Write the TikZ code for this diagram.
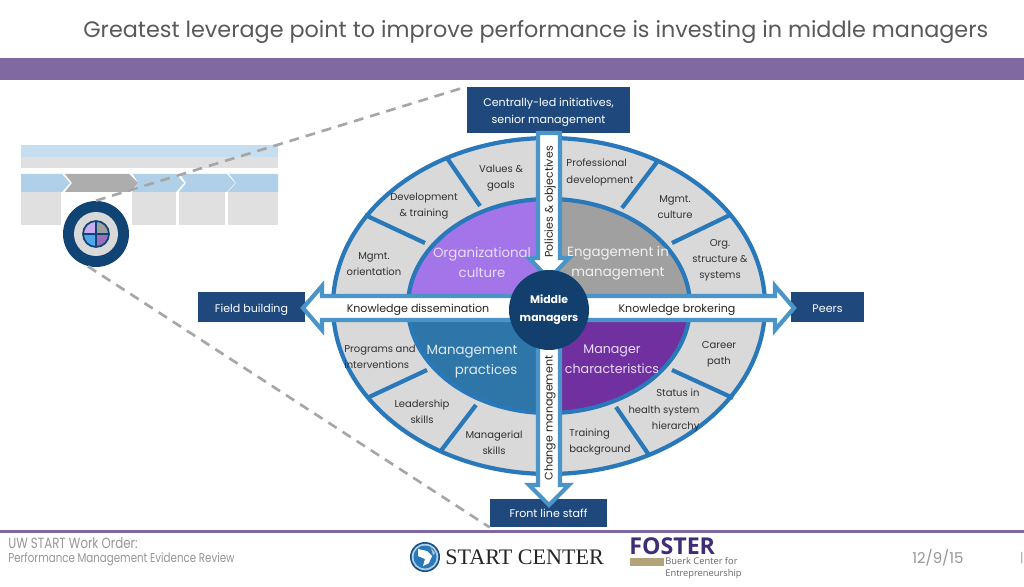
\documentclass[tikz,border=0pt]{standalone}
\usepackage{fontspec}
\setmainfont{Poppins}
\newfontfamily\startfont{Liberation Serif}
\newfontfamily\fosterfont{Open Sans}
\newfontfamily\footfont[FakeStretch=0.8]{Poppins}
\usepackage{xcolor}
\usepackage{tikz}
\usetikzlibrary{positioning,arrows.meta}
\definecolor{barpurple}{RGB}{128,104,160}
\definecolor{navybox}{RGB}{31,73,125}
\definecolor{hubnavy}{RGB}{18,63,109}
\definecolor{ringblue}{RGB}{41,120,185}
\definecolor{arrowblue}{RGB}{74,148,200}
\definecolor{ringgray}{RGB}{217,217,217}
\definecolor{cultpurple}{RGB}{163,117,232}
\definecolor{engagegray}{RGB}{160,160,160}
\definecolor{practblue}{RGB}{46,117,168}
\definecolor{charpurple}{RGB}{112,48,160}
\definecolor{paleblue}{RGB}{197,223,240}
\definecolor{chevblue}{RGB}{175,208,232}
\definecolor{palegray}{RGB}{224,224,224}
\definecolor{dashgray}{RGB}{166,166,166}
\definecolor{inklabel}{RGB}{50,50,50}
\definecolor{footgray}{RGB}{150,150,150}
\definecolor{lensnavy}{RGB}{15,68,117}
\definecolor{lensblue}{RGB}{77,166,232}
\definecolor{fosterpurple}{RGB}{63,45,120}
\definecolor{fostertan}{RGB}{178,163,120}
\tikzset{
  navynode/.style={fill=navybox, text=white, inner sep=0pt, align=center, font=\fontsize{6.3}{10}\selectfont},
  ringlabel/.style={text=inklabel, inner sep=0pt, font=\fontsize{5.7}{9.2}\selectfont},
  corelabel/.style={inner sep=0pt, font=\fontsize{7.6}{11.4}\selectfont},
  flowlabel/.style={text=black!85, inner sep=0pt, font=\fontsize{6.3}{8}\selectfont},
  spoke/.style={draw=ringblue, line width=2.4pt},
  flowarrow/.style={fill=white, draw=arrowblue, line width=2.4pt, miter limit=10},
  zoomline/.style={draw=dashgray, line width=1.5pt, dash pattern=on 5.6pt off 4pt},
  footlabel/.style={text=footgray, inner sep=0pt, anchor=west, font=\footfont\fontsize{7.3}{8}\selectfont}
}
\newcommand{\corner}[2]{%
  \begin{scope}
    \clip #2;
    \fill[#1] (549,306) ellipse [x radius=141, y radius=107];
  \end{scope}}
\newcommand{\schembox}[2]{\fill[palegray] (#1,192) rectangle (#2,225);}
\begin{document}
\begin{tikzpicture}[x=0.02cm, y=-0.02cm]
  \useasboundingbox (0,0) rectangle (1024,587);
  \fill[white] (0,0) rectangle (1024,587);
  \node[anchor=west, text=black!65, inner sep=0pt, font=\fontsize{12.7}{14}\selectfont] (title) at (83,32) {Greatest leverage point to improve performance is investing in middle managers};
  \fill[barpurple] (0,58) rectangle (1024,80);
  \fill[paleblue] (21,145) rectangle (278,157);
  \fill[palegray] (21,157) rectangle (278,168);
  \schembox{21}{61}
  \schembox{132}{176}
  \schembox{179}{225}
  \schembox{228}{278}
  \fill[chevblue] (21,174) -- (62,174) -- (70,183) -- (62,192) -- (21,192) -- cycle;
  \fill[black!32] (65,174) -- (129,174) -- (138,183) -- (130,192) -- (65,192) -- (72,183) -- cycle;
  \fill[chevblue] (133,174) -- (176,174) -- (184,183) -- (176,192) -- (132,192) -- (138,183) -- cycle;
  \fill[chevblue] (180,174) -- (227,174) -- (235,183) -- (227,192) -- (179,192) -- (186,183) -- cycle;
  \fill[chevblue] (229,174) -- (278,174) -- (278,192) -- (228,192) -- (236,183) -- cycle;
  \node[circle, fill=lensnavy, inner sep=0pt, minimum size=1.32cm] (lens) at (96,234) {};
  \fill[ringgray] (96,234) circle (22);
  \fill[cultpurple!60] (96,234) -- (83,234) arc[start angle=180, end angle=270, radius=13] -- cycle;
  \fill[engagegray] (96,234) -- (96,221) arc[start angle=270, end angle=360, radius=13] -- cycle;
  \fill[lensblue] (96,234) -- (96,247) arc[start angle=90, end angle=180, radius=13] -- cycle;
  \fill[charpurple!70] (96,234) -- (109,234) arc[start angle=0, end angle=90, radius=13] -- cycle;
  \draw[lensnavy, line width=1pt] (96,234) circle (13) (83,234) -- (109,234) (96,221) -- (96,247);
  \node[navynode, minimum width=3.26cm, minimum height=0.92cm, text height=17.4pt] (lead) at (548.5,110) {Centrally-led initiatives,\\senior management};
  \node[navynode, minimum width=2.34cm, minimum height=0.56cm] (front) at (548.5,513) {Front line staff};
  \node[navynode, minimum width=2.14cm, minimum height=0.6cm, text height=6.2pt, text depth=0pt] (field) at (251.5,307) {Field building};
  \node[navynode, minimum width=1.46cm, minimum height=0.6cm, text height=6.2pt, text depth=0pt] (peers) at (827.5,307) {Peers};
  \draw[zoomline] (lens.90) -- (lead.north west);
  \draw[zoomline] (lens.256) -- (front.south west);
  \fill[ringgray] (549,306) ellipse [x radius=216, y radius=168];
  \corner{cultpurple}{(408,199) rectangle (549,306)}
  \corner{engagegray}{(549,199) rectangle (690,306)}
  \corner{practblue}{(408,306) rectangle (549,414)}
  \corner{charpurple}{(549,306) rectangle (690,414)}
  \draw[spoke] (549,306) ellipse [x radius=141, y radius=107];
  \draw[spoke] (365,215) -- (425,243);
  \draw[spoke] (447,158) -- (480,206);
  \draw[spoke] (657,162) -- (622,208);
  \draw[spoke] (730,215) -- (672,243);
  \draw[spoke] (367,398) -- (427,370);
  \draw[spoke] (440,452) -- (476,405);
  \draw[spoke] (733,398) -- (672,370);
  \draw[spoke] (649,455) -- (616,407);
  \draw[spoke] (549,306) ellipse [x radius=216, y radius=168];
  \draw[flowarrow] (303,308) -- (322,286) -- (322,296) -- (775,296) -- (775,286) -- (794,308) -- (775,330) -- (775,320) -- (322,320) -- (322,330) -- cycle;
  \draw[flowarrow] (538,133) -- (560,133) -- (560,258) -- (569,258) -- (549,279) -- (529,258) -- (538,258) -- cycle;
  \draw[flowarrow] (538,340) -- (560,340) -- (560,485) -- (569,485) -- (549,505) -- (529,485) -- (538,485) -- cycle;
  \node[circle, fill=hubnavy, text=white, inner sep=0pt, minimum size=1.6cm, align=center, font=\fontsize{6.2}{10.2}\bfseries\selectfont] (hub) at (549,310) {Middle\\managers};
  \node[ringlabel, align=center] (values) at (501,178) {Values \&\\goals};
  \node[ringlabel, align=center] (training) at (424,206) {Development\\\& training};
  \node[ringlabel, align=center] (orient) at (374,264) {Mgmt.\\orientation};
  \node[ringlabel, align=left] (profdev) at (600,172.5) {Professional\\development};
  \node[ringlabel, align=center] (mculture) at (675,207) {Mgmt.\\culture};
  \node[ringlabel, align=center] (structure) at (720,260) {Org.\\structure \&\\systems};
  \node[ringlabel, align=left] (programs) at (380,357) {Programs and\\interventions};
  \node[ringlabel, align=center] (leader) at (422,412) {Leadership\\skills};
  \node[ringlabel, align=center] (mskills) at (494,443) {Managerial\\skills};
  \node[ringlabel, align=center] (career) at (719,354) {Career\\path};
  \node[ringlabel, align=right] (status) at (664,410.5) {Status in\\health system\\hierarchy};
  \node[ringlabel, align=left] (backgr) at (600,442) {Training\\background};
  \node[corelabel, align=center, text=cultpurple!25] (orgcult) at (482,262) {Organizational\\culture};
  \node[corelabel, align=center, text=white!85!engagegray] (engage) at (618,263) {Engagement in\\management};
  \node[corelabel, align=right, text=white!85!practblue] (mgmtpr) at (472,362) {Management\\practices};
  \node[corelabel, align=center, text=cultpurple!25, font=\fontsize{7.2}{11.4}\selectfont] (mchar) at (612,359.5) {Manager\\characteristics};
  \node[flowlabel] (dissem) at (418,310) {Knowledge dissemination};
  \node[flowlabel] (broker) at (677,310) {Knowledge brokering};
  \node[flowlabel, rotate=90] (policies) at (550,202) {Policies \& objectives};
  \node[flowlabel, rotate=90] (change) at (550,418) {Change management};
  \fill[barpurple] (0,530) rectangle (1024,532.5);
  \node[footlabel, font=\footfont\fontsize{8.4}{8}\selectfont] (order) at (8,543) {UW START Work Order:};
  \node[footlabel] (review) at (8,559) {Performance Management Evidence Review};
  \fill[hubnavy!70!ringblue] (425,557) circle (15);
  \fill[arrowblue!45] (425,557) circle (13.3);
  \fill[ringblue] (425,557) circle (11.5);
  \fill[white] (418,549) -- (427,551) -- (432,556) -- (429,563) -- (423,566) -- (425,559) -- (418,556) -- cycle;
  \fill[white!60!ringblue] (431,548) -- (435,553) -- (433,555) -- cycle;
  \node[anchor=west, inner sep=0pt, text=black!85, font=\startfont\fontsize{12.6}{14}\selectfont] (start) at (445,557) {START CENTER};
  \node[anchor=west, inner sep=0pt, text=fosterpurple, font=\fosterfont\fontsize{13.2}{14}\bfseries\selectfont] (foster) at (629,546.5) {FOSTER};
  \fill[fostertan] (630,558) rectangle (664,566);
  \node[anchor=north west, inner sep=0pt, text=black!60, align=left, font=\fosterfont\fontsize{5.3}{6.4}\selectfont] (buerk) at (665,557.5) {Buerk Center for\\Entrepreneurship};
  \node[footlabel, font=\fontsize{8.5}{9}\selectfont] (date) at (912,558) {12/9/15};
  \node[footlabel] (pagebar) at (1020,558) {|};
\end{tikzpicture}
\end{document}
